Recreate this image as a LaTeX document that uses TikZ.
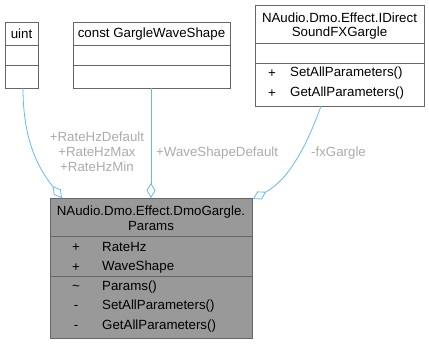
\documentclass[tikz,border=0pt]{standalone}
\usepackage{fontspec}
\setmainfont{Liberation Sans}
\usetikzlibrary{arrows.meta}
\definecolor{boxline}{HTML}{666666}
\definecolor{hilite}{HTML}{999999}
\definecolor{edgeblue}{HTML}{63B8FF}
\definecolor{labelgray}{HTML}{ABABAB}
\tikzset{
  umlbox/.style={draw=boxline, line width=0.8pt, fill=white, inner sep=0pt, anchor=north west},
  hlbox/.style={umlbox, fill=hilite},
  sep/.style={draw=boxline, line width=0.8pt},
  txt/.style={font=\fontsize{13.3}{15}\selectfont, inner sep=0pt},
  elabel/.style={txt, text=labelgray, align=center},
  assoc/.style={draw=edgeblue, line width=0.8pt,
    -{Diamond[open, length=15pt, width=9pt, line width=0.8pt]}},
}
\begin{document}
\begin{tikzpicture}[x=1pt, y=-1pt]
\useasboundingbox (0,0) rectangle (429,344);

% uint
\node[umlbox, minimum width=33pt, minimum height=66pt] (uint) at (5,22) {};
\draw[sep] (5,45) -- (38,45) (5,65) -- (38,65);
\node[txt] (uintT) at (21.5,34) {uint};

% const GargleWaveShape
\node[umlbox, minimum width=157pt, minimum height=66pt] (gws) at (73,22) {};
\draw[sep] (73,45) -- (230,45) (73,65) -- (230,65);
\node[txt] (gwsT) at (151.5,34) {const GargleWaveShape};

% NAudio.Dmo.Effect.IDirectSoundFXGargle
\node[umlbox, minimum width=169pt, minimum height=101pt] (ifx) at (255,5) {};
\draw[sep] (255,43) -- (424,43) (255,63) -- (424,63);
\node[txt] (ifxT1) at (339.5,18) {NAudio.Dmo.Effect.IDirect};
\node[txt] (ifxT2) at (339.5,33) {SoundFXGargle};
\node[txt] (ifxV1) at (272,74) {+};
\node[txt, anchor=west] (ifxM1) at (290,73) {SetAllParameters()};
\node[txt] (ifxV2) at (272,94) {+};
\node[txt, anchor=west] (ifxM2) at (290,93) {GetAllParameters()};

% NAudio.Dmo.Effect.DmoGargle.Params
\node[hlbox, minimum width=202pt, minimum height=140pt] (par) at (50,198) {};
\draw[sep] (50,236) -- (252,236) (50,276) -- (252,276);
\node[txt] (parT1) at (151,212) {NAudio.Dmo.Effect.DmoGargle.};
\node[txt] (parT2) at (151,226) {Params};
\node[txt] (pv1) at (76,248) {+};
\node[txt, anchor=west] (pa1) at (102,247) {RateHz};
\node[txt] (pv2) at (76,268) {+};
\node[txt, anchor=west] (pa2) at (102,267) {WaveShape};
\node[txt] (pv3) at (76,288) {\char"007E};
\node[txt, anchor=west] (pm1) at (102,287) {Params()};
\node[txt] (pv4) at (76,307) {-};
\node[txt, anchor=west] (pm2) at (102,306) {SetAllParameters()};
\node[txt] (pv5) at (76,327) {-};
\node[txt, anchor=west] (pm3) at (102,326) {GetAllParameters()};

% connector ends on the Params box
\coordinate (inU) at (62,198);
\coordinate (inW) at (151,198);
\coordinate (inF) at (253,199);
\coordinate (outU) at (23,88);
\coordinate (outW) at (151,88);
\coordinate (outF) at (321,106);

\draw[assoc] (outU) .. controls (23,140) and (38,168) .. (inU);
\draw[assoc] (outW) -- (inW);
\draw[assoc] (outF) .. controls (306,148) and (288,180) .. (inF);

% connector labels
\node[elabel] (lU) at (97,152) {+RateHzDefault\\+RateHzMax\\+RateHzMin};
\node[txt, text=labelgray, anchor=west] (lW) at (156,153) {+WaveShapeDefault};
\node[txt, text=labelgray, anchor=west] (lF) at (311,153) {-fxGargle};
\end{tikzpicture}
\end{document}
